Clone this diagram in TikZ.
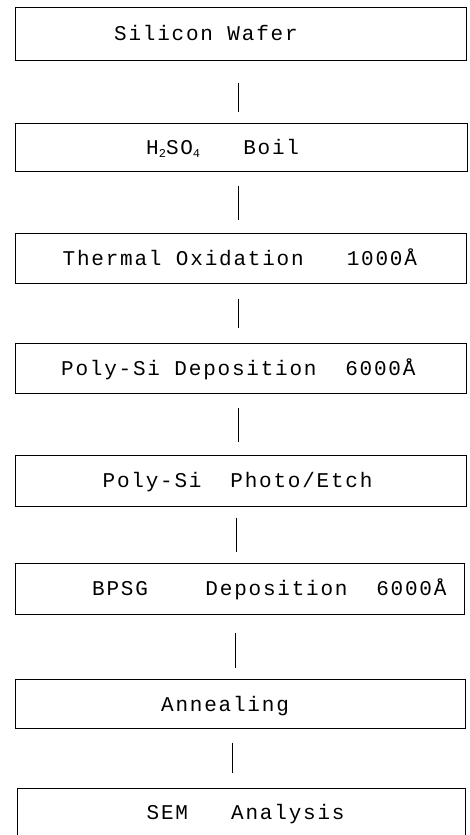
\documentclass[tikz,border=0pt]{standalone}
\usepackage{fontspec}
\newfontfamily\tw[LetterSpace=8.5]{Liberation Mono}
\newcommand\lowsub[1]{\raisebox{-3pt}{\fontsize{12}{12}\selectfont #1}}
\begin{document}
\begin{tikzpicture}[x=1pt,y=-1pt,
  stepbox/.style={draw=black, line width=1pt, rectangle, inner sep=0pt},
  lbl/.style={anchor=base west, inner sep=0pt, font=\tw\fontsize{21}{21}\selectfont},
  link/.style={draw=black, line width=1pt}]
\useasboundingbox (0,0) rectangle (469,835);
\clip (0,0) rectangle (469,835);
\node[stepbox, minimum width=451pt, minimum height=53pt] (b1) at (240.5,33.5) {};
\node[stepbox, minimum width=452pt, minimum height=48pt] (b2) at (241,147) {};
\node[stepbox, minimum width=451pt, minimum height=50pt] (b3) at (240.5,258) {};
\node[stepbox, minimum width=451pt, minimum height=50pt] (b4) at (240.5,368) {};
\node[stepbox, minimum width=451pt, minimum height=51pt] (b5) at (240.5,480.5) {};
\node[stepbox, minimum width=449pt, minimum height=51pt] (b6) at (239.5,588.5) {};
\node[stepbox, minimum width=450pt, minimum height=49pt] (b7) at (240,703.5) {};
\node[stepbox, minimum width=448pt, minimum height=62pt] (b8) at (241,819) {};

\node[lbl] (t1) at (114,40.5) {Silicon Wafer};
\node[lbl] (t2) at (146,154) {H\lowsub{2}SO\lowsub{4}~~~Boil};
\node[lbl] (t3) at (62.5,265) {Thermal Oxidation~~~1000Å};
\node[lbl] (t4) at (61,375) {Poly-Si Deposition~~6000Å};
\node[lbl] (t5) at (102.5,487.5) {Poly-Si~~Photo/Etch};
\node[lbl] (t6) at (92,595.5) {BPSG~~~~Deposition~~6000Å};
\node[lbl] (t7) at (161,711) {Annealing};
\node[lbl] (t8) at (146.5,819) {SEM~~~Analysis};

\draw[link, shorten <=22pt, shorten >=11pt] ([xshift=-2.5pt]b1.south) -- ([xshift=-3pt]b2.north);
\draw[link, shorten <=14pt, shorten >=13pt] ([xshift=-3pt]b2.south) -- ([xshift=-2.5pt]b3.north);
\draw[link, shorten <=15pt, shorten >=15pt] ([xshift=-2.5pt]b3.south) -- ([xshift=-2.5pt]b4.north);
\draw[link, shorten <=14pt, shorten >=13pt] ([xshift=-2.5pt]b4.south) -- ([xshift=-2.5pt]b5.north);
\draw[link, shorten <=11pt, shorten >=11pt] ([xshift=-4.5pt]b5.south) -- ([xshift=-3.5pt]b6.north);
\draw[link, shorten <=18pt, shorten >=11pt] ([xshift=-4.5pt]b6.south) -- ([xshift=-5pt]b7.north);
\draw[link, shorten <=14pt, shorten >=15pt] ([xshift=-8pt]b7.south) -- ([xshift=-9pt]b8.north);
\end{tikzpicture}
\end{document}
